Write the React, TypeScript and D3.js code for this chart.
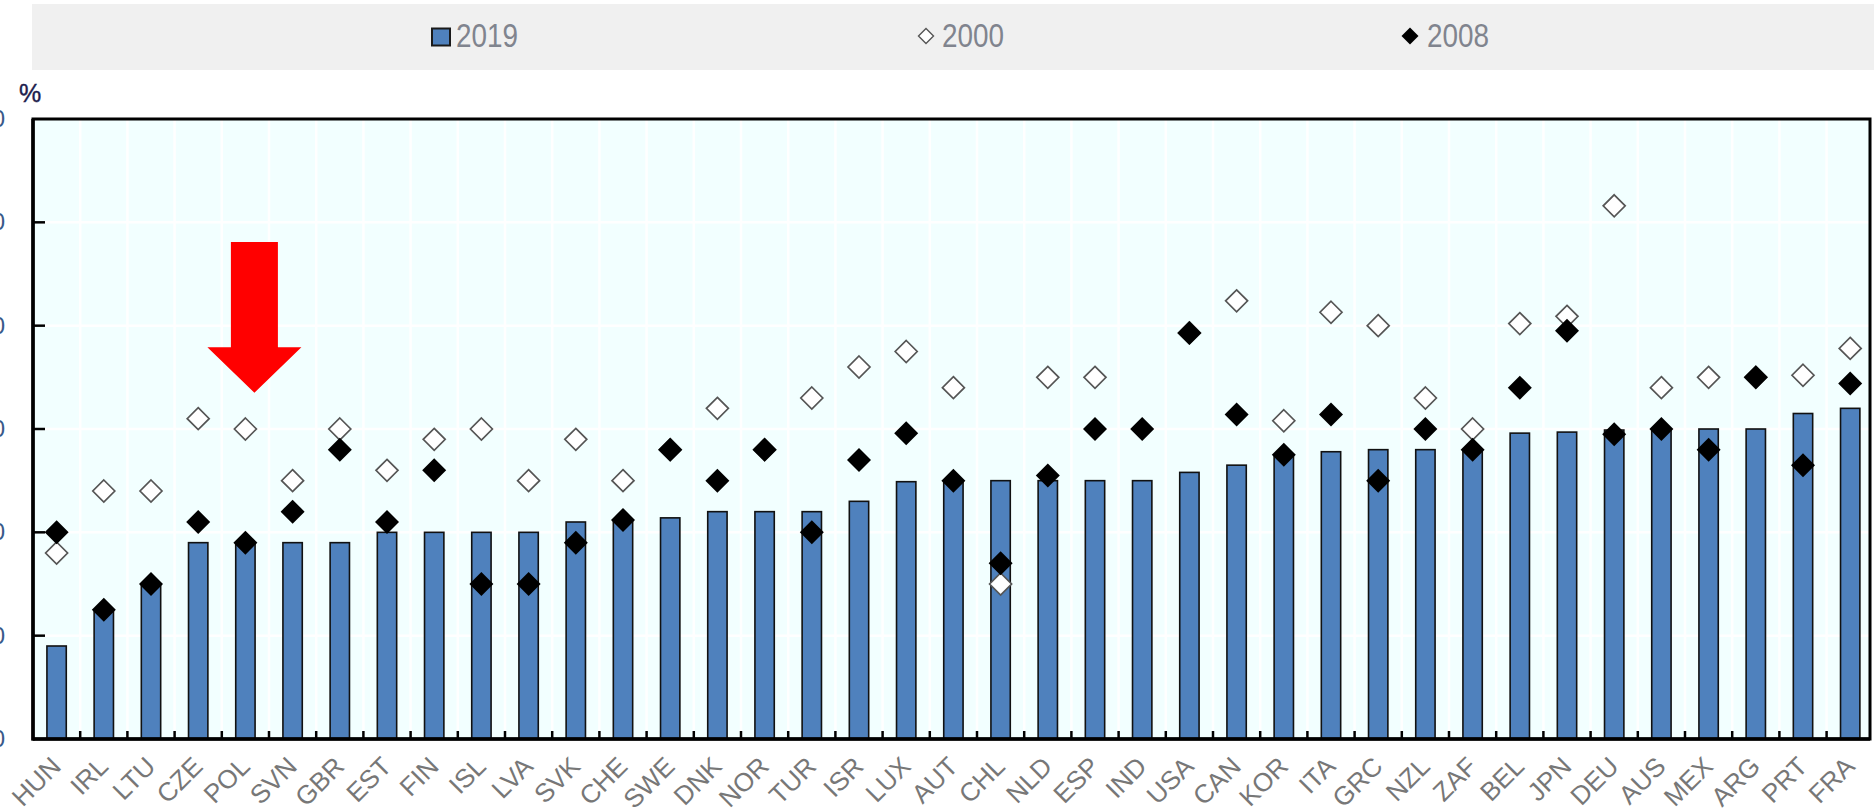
import React from "react";
import * as d3 from "d3";

const countries = ["HUN","IRL","LTU","CZE","POL","SVN","GBR","EST","FIN","ISL","LVA","SVK","CHE","SWE","DNK","NOR","TUR","ISR","LUX","AUT","CHL","NLD","ESP","IND","USA","CAN","KOR","ITA","GRC","NZL","ZAF","BEL","JPN","DEU","AUS","MEX","ARG","PRT","FRA"];
const rate2019 = [9,12.5,15,19,19,19,19,20,20,20,20,21,21.1,21.4,22,22,22,23,24.9,25,25,25,25,25,25.8,26.5,27.5,27.8,28,28,28,29.6,29.7,29.9,30,30,30,31.5,32];
const rate2000: (number|null)[] = [18,24,24,31,30,25,30,26,29,30,25,29,25,28,32,28,33,36,37.5,34,15,35,35,null,39.3,42.4,30.8,41.3,40,33,30,40.2,40.9,51.6,34,35,35,35.2,37.8];
const rate2008 = [20,12.5,15,21,19,22,28,21,26,15,15,19,21.2,28,25,28,20,27,29.6,25,17,25.5,30,30,39.3,31.4,27.5,31.4,25,30,28,34,39.5,29.5,30,28,35,26.5,34.4];
const yTicks = [0,10,20,30,40,50,60];
const legendLabels = ["2019","2000","2008"];
const highlighted = "POL";

const W = 1874, H = 812;
const L = 33, T = 119, B = 739, FR = 1870;
const BAND = 47.2;

export default function App() {
  const x = d3.scaleBand<string>().domain(countries).range([L, L + BAND * countries.length]).paddingInner(0).paddingOuter(0);
  const y = d3.scaleLinear().domain([0, 60]).range([B, T]);
  const bw = x.bandwidth();
  const barW = bw * 0.41;
  const diamond = (cx: number, cy: number, r: number) => `M${cx},${cy - r}L${cx + r},${cy}L${cx},${cy + r}L${cx - r},${cy}Z`;
  const font = "'Liberation Sans',Arial,sans-serif";
  const legendText = { fontFamily: font, fontSize: 33, fill: "#80848e" } as const;
  const ax = (x(highlighted) as number) + bw / 2 + 9;
  return (
    <div style={{ position: "absolute", left: 0, top: 0 }}>
      <svg width={W} height={H} style={{ display: "block", background: "#fff" }}>
        {/* legend band */}
        <rect x={32} y={4} width={W - 32} height={66} fill="#f0f0f0" />
        <rect x={432} y={28.5} width={18} height={17} fill="#4f81bd" stroke="#1a1a1a" strokeWidth={2} />
        <text x={456} y={47} {...legendText} textLength={62} lengthAdjust="spacingAndGlyphs">{legendLabels[0]}</text>
        <path d={diamond(926, 36, 7.5)} fill="#fff" stroke="#555" strokeWidth={1.4} />
        <text x={942} y={47} {...legendText} textLength={62} lengthAdjust="spacingAndGlyphs">{legendLabels[1]}</text>
        <path d={diamond(1410, 36, 8.5)} fill="#000" />
        <text x={1427} y={47} {...legendText} textLength={62} lengthAdjust="spacingAndGlyphs">{legendLabels[2]}</text>

        {/* unit label */}
        <text x={19} y={102} fontFamily={font} fontSize={25} fill="#1c1c4c" stroke="#1c1c4c" strokeWidth={0.4}>%</text>

        {/* plot background */}
        <rect x={L} y={T} width={FR - L} height={B - T} fill="#f2ffff" />
        {yTicks.slice(1, -1).map(t => (
          <line key={"h" + t} x1={L} x2={FR} y1={y(t)} y2={y(t)} stroke="#ffffff" strokeWidth={2.5} />
        ))}
        {countries.slice(1).map(c => (
          <line key={"v" + c} x1={x(c) as number} x2={x(c) as number} y1={T} y2={B} stroke="#ffffff" strokeWidth={2.5} />
        ))}

        {/* bars */}
        {countries.map((c, i) => (
          <rect key={"b" + c} x={(x(c) as number) + (bw - barW) / 2} y={y(rate2019[i])} width={barW} height={B - y(rate2019[i])} fill="#4f81bd" stroke="#111" strokeWidth={1.6} />
        ))}

        {/* 2000 markers */}
        {countries.map((c, i) => rate2000[i] == null ? null : (
          <path key={"w" + c} d={diamond((x(c) as number) + bw / 2, y(rate2000[i] as number), 11)} fill="#fff" stroke="#555" strokeWidth={1.7} />
        ))}
        {/* 2008 markers */}
        {countries.map((c, i) => (
          <path key={"k" + c} d={diamond((x(c) as number) + bw / 2, y(rate2008[i]), 12)} fill="#000" />
        ))}

        {/* frame */}
        <rect x={L} y={T} width={FR - L} height={B - T} fill="none" stroke="#000" strokeWidth={3} />
        <line x1={L} x2={L} y1={T} y2={B + 1.5} stroke="#000" strokeWidth={3.5} />
        <line x1={L} x2={FR} y1={B} y2={B} stroke="#000" strokeWidth={3.5} />
        {yTicks.slice(1, -1).map(t => (
          <line key={"yt" + t} x1={L} x2={L + 12} y1={y(t)} y2={y(t)} stroke="#000" strokeWidth={2.5} />
        ))}
        {countries.slice(1).map(c => (
          <line key={"xt" + c} x1={x(c) as number} x2={x(c) as number} y1={B} y2={B - 8} stroke="#000" strokeWidth={2.5} />
        ))}

        {/* y tick labels (mostly cut off at the left edge, as in the source) */}
        {yTicks.map(t => (
          <text key={"yl" + t} x={5} y={y(t) + 8} textAnchor="end" fontFamily={font} fontSize={24} fill="#3a5a8a">{t}</text>
        ))}

        {/* x labels */}
        {countries.map(c => {
          const cx = (x(c) as number) + bw / 2 + 6;
          const cy = B + 29;
          return (
            <text key={"xl" + c} x={cx} y={cy} textAnchor="end" transform={`rotate(-45, ${cx}, ${cy})`} fontFamily={font} fontSize={26} fill="#777777">{c}</text>
          );
        })}

        {/* red arrow annotation */}
        <path
          d={`M${ax - 23.5},${y(48.1)}L${ax + 23.5},${y(48.1)}L${ax + 23.5},${y(37.9)}L${ax + 47},${y(37.9)}L${ax},${y(33.5)}L${ax - 47},${y(37.9)}L${ax - 23.5},${y(37.9)}Z`}
          fill="#ff0000"
        />
      </svg>
    </div>
  );
}
